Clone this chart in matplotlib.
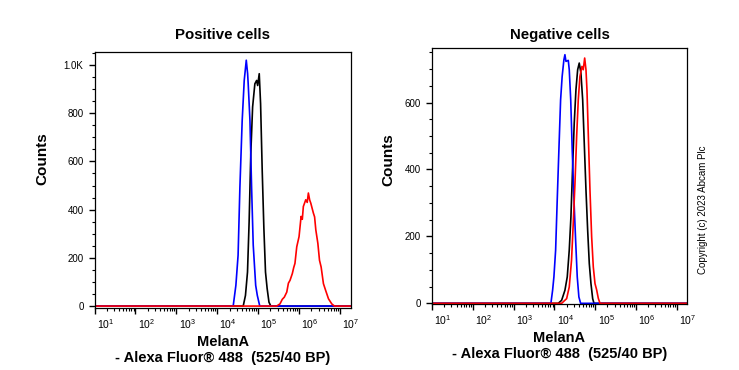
import numpy as np
import matplotlib
matplotlib.use("Agg")
import matplotlib.pyplot as plt
from matplotlib.ticker import LogLocator, MultipleLocator, FixedLocator, NullFormatter
from matplotlib.transforms import ScaledTranslation

plt.rcParams['font.family'] = ['Liberation Sans', 'DejaVu Sans']
plt.rcParams['mathtext.fontset'] = 'custom'
plt.rcParams['mathtext.rm'] = 'Liberation Sans'

# ---------------- data (log10 of intensity, counts) ----------------
titles = ["Positive cells", "Negative cells"]
xlabel = "MelanA\n- Alexa Fluor\u00ae 488  (525/40 BP)"
copyright_text = "Copyright (c) 2023 Abcam Plc"

# Positive cells panel
pos_blue_x = [1.0, 4.39, 4.456, 4.51, 4.554, 4.61, 4.66, 4.71, 4.743, 4.757, 4.80, 4.84, 4.88, 4.94, 4.98, 5.04, 7.3]
pos_blue_y = [0, 0, 86, 211, 492, 769, 936, 1020, 964, 922, 769, 492, 253, 86, 44, 0, 0]

pos_black_x = [1.0, 4.635, 4.69, 4.74, 4.78, 4.82, 4.865, 4.92, 4.963, 4.988, 5.027, 5.06, 5.10, 5.14, 5.18, 5.22, 5.265, 5.31, 7.3]
pos_black_y = [0, 0, 44, 141, 351, 630, 826, 922, 936, 915, 964, 839, 560, 324, 141, 73, 16, 0, 0]

pos_red_x = [1.0, 5.453, 5.534, 5.59, 5.64, 5.70, 5.74, 5.78, 5.836, 5.87, 5.90, 5.944, 6.0, 6.05, 6.08, 6.105, 6.164, 6.20, 6.228,
             6.26, 6.287, 6.35, 6.38, 6.41, 6.46, 6.50, 6.54, 6.596, 6.65, 6.72, 6.80, 6.865, 7.3]
pos_red_y = [0, 0, 9, 28, 37, 58, 95, 107, 135, 160, 177, 246, 288, 372, 360, 413, 441, 430, 469,
             440, 427, 386, 370, 316, 260, 190, 162, 93, 65, 30, 9, 0, 0]

# Negative cells panel
neg_blue_x = [1.0, 3.914, 3.956, 3.988, 4.03, 4.069, 4.11, 4.152, 4.19, 4.233, 4.258, 4.283, 4.34, 4.364, 4.40, 4.437, 4.48, 4.52, 4.56, 4.60, 4.643, 7.3]
neg_blue_y = [0, 0, 39, 79, 159, 308, 458, 608, 678, 728, 743, 723, 726, 698, 608, 458, 308, 189, 79, 19, 0, 0]

neg_black_x = [1.0, 4.094, 4.177, 4.258, 4.315, 4.364, 4.405, 4.447, 4.486, 4.528, 4.57, 4.609, 4.65, 4.693, 4.732, 4.774, 4.815, 4.855, 4.896, 4.938, 4.97, 7.3]
neg_black_y = [0, 0, 9, 39, 79, 159, 258, 408, 538, 638, 698, 718, 688, 608, 478, 338, 219, 119, 59, 14, 0, 0]

neg_red_x = [1.0, 4.177, 4.30, 4.364, 4.42, 4.462, 4.504, 4.545, 4.585, 4.626, 4.675, 4.707, 4.742, 4.774, 4.798, 4.83, 4.872, 4.913, 4.953, 4.995, 5.036, 5.076, 5.117, 7.3]
neg_red_y = [0, 0, 14, 49, 129, 239, 358, 498, 608, 678, 708, 698, 733, 698, 638, 508, 338, 199, 109, 59, 40, 15, 0, 0]

panels = [
    dict(series=[(pos_black_x, pos_black_y, 'black'), (pos_blue_x, pos_blue_y, '#0000ff'), (pos_red_x, pos_red_y, '#ff0000')],
         ylim=(-8, 1054), yticks=[0, 200, 400, 600, 800, 1000],
         yticklabels=["0", "200", "400", "600", "800", "1.0K"], xlim_hi=7.27,
         pos=[94.5, 308, 256.5, 256], ylabel_xy=(-0.177, 0.582)),
    dict(series=[(neg_black_x, neg_black_y, 'black'), (neg_blue_x, neg_blue_y, '#0000ff'), (neg_red_x, neg_red_y, '#ff0000')],
         ylim=(-2, 763), yticks=[0, 200, 400, 600],
         yticklabels=["0", "200", "400", "600"], xlim_hi=7.25,
         pos=[432, 304, 255, 256], ylabel_xy=(-0.145, 0.5625)),
]

W, H = 739, 370
fig = plt.figure(figsize=(W / 100, H / 100), dpi=100)

decades = [1, 2, 3, 4, 5, 6, 7]
for i, p in enumerate(panels):
    x0, ybot, w, h = p['pos']
    ax = fig.add_axes([x0 / W, 1 - ybot / H, w / W, h / H])
    for xs, ys, c in p['series']:
        ax.plot(10 ** np.array(xs), ys, color=c, lw=1.2)
    ax.set_xscale('log')
    ax.set_xlim(10 ** 1.0, 10 ** p['xlim_hi'])
    ax.set_ylim(*p['ylim'])
    ax.xaxis.set_major_locator(FixedLocator([10.0 ** d for d in decades]))
    ax.set_xticklabels([r'$\mathregular{10^{%d}}$' % d for d in decades])
    ax.xaxis.set_minor_locator(LogLocator(base=10, subs=np.arange(2, 10), numticks=20))
    ax.xaxis.set_minor_formatter(NullFormatter())
    ax.set_yticks(p['yticks'])
    ax.set_yticklabels(p['yticklabels'])
    ax.yaxis.set_minor_locator(MultipleLocator(50))
    ax.tick_params(axis='both', which='major', direction='out', length=4.3, width=1.0, labelsize=7)
    ax.tick_params(axis='both', which='minor', direction='out', length=2.4, width=0.8)
    ax.tick_params(axis='y', which='major', pad=3.6)
    ax.tick_params(axis='x', which='major', pad=2.5, labelsize=7.5)
    off = ScaledTranslation(0.11, 0, fig.dpi_scale_trans)
    for lab in ax.get_xticklabels():
        lab.set_transform(lab.get_transform() + off)
    for s in ax.spines.values():
        s.set_linewidth(0.9)
    ax.set_ylabel("Counts", fontsize=11, fontweight='bold')
    ax.yaxis.set_label_coords(*p['ylabel_xy'])
    ax.set_xlabel(xlabel, fontsize=10.5, fontweight='bold', labelpad=2.5, linespacing=1.2)
    fig.text((x0 + w / 2) / W, 1 - 35 / H, titles[i], ha='center', va='center',
             fontsize=10.8, fontweight='bold')

fig.text(703 / W, 1 - 210 / H, copyright_text, rotation=90, ha='center', va='center', fontsize=7)

fig.savefig("out.png", dpi=100)
